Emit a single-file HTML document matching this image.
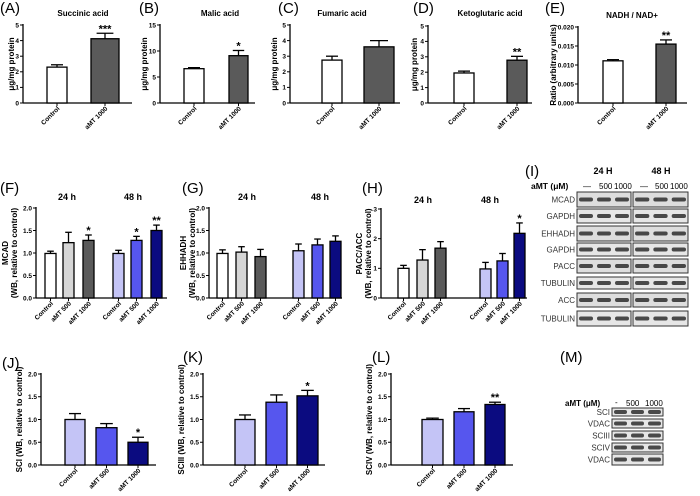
<!DOCTYPE html>
<html><head><meta charset="utf-8"><style>
body{margin:0;background:#fff}
svg{display:block;font-family:"Liberation Sans",Arial,sans-serif}
.pl{font-size:15px}
.t{font-size:8px;font-weight:bold}
.tk{font-size:6.5px;font-weight:bold}
.bl{font-size:8px;fill:#333}
</style></head><body>
<svg id="fig" width="700" height="496" viewBox="0 0 700 496"></svg>
<script>
// ===== data =====
const catsAE = ["Control","aMT 1000"];
const valsA = [2.3, 4.12], errA = [0.15, 0.35];
const valsB = [6.6, 9.1], errB = [0.2, 1.0];
const valsC = [2.75, 3.6], errC = [0.25, 0.4];
const valsD = [1.95, 2.78], errD = [0.12, 0.25];
const valsE = [0.0111, 0.0155], errE = [0.0003, 0.0011];
const catsFH = ["Control","aMT 500","aMT 1000","Control","aMT 500","aMT 1000"];
const valsF = [0.99,1.23,1.28,0.99,1.28,1.5], errF = [0.05,0.23,0.12,0.07,0.09,0.12];
const valsG = [0.99,1.02,0.92,1.05,1.18,1.26], errG = [0.08,0.12,0.16,0.15,0.13,0.12];
const valsH = [1.0,1.28,1.68,0.98,1.25,2.18], errH = [0.1,0.35,0.22,0.22,0.25,0.35];
const catsJL = ["Control","aMT 500","aMT 1000"];
const valsJ = [1.0,0.82,0.5], errJ = [0.13,0.09,0.11];
const valsK = [1.0,1.38,1.52], errK = [0.1,0.16,0.12];
const valsL = [1.0,1.17,1.33], errL = [0.03,0.07,0.05];
const ticksA = ["0","1","2","3","4","5"], ticksB = ["0","5","10","15"];
const ticksE = ["0.000","0.005","0.010","0.015","0.020"];
const ticks2 = ["0.0","0.5","1.0","1.5","2.0"], ticksH = ["0","1","2","3"];
const starsAE = ["","***"], starsB = ["","*"], starsC = ["",""], starsD = ["","**"], starsE = ["","**"];
const starsF = ["","","*","","*","**"], starsG = ["","","","","",""], starsH = ["","","","","","*"];
const starsJ = ["","","*"], starsK = ["","","*"], starsL = ["","","**"];

const NS="http://www.w3.org/2000/svg", svg=document.getElementById('fig');
function mk(tag,attrs,parent,text){const e=document.createElementNS(NS,tag);for(const k in attrs)e.setAttribute(k,attrs[k]);if(text!==undefined)e.textContent=text;(parent||svg).appendChild(e);return e;}
const W="#fff",LG="#d6d6d6",DG="#5a5a5a",LV="#c4c4f6",BL="#5656ee",NV="#0b0b80";

function panel(p){
  const g=mk('g',{});
  
  
  const n=p.ticks.length-1, ymax=parseFloat(p.ticks[n]);
  const y=v=>p.y0-(v/ymax)*(p.y0-p.yt);
  const ax=mk('line',{x1:p.ax,y1:p.yt-1,x2:p.ax,y2:p.y0,stroke:'#000','stroke-width':1.3},g);
  
  const bx=mk('line',{x1:p.ax,y1:p.y0,x2:p.xe,y2:p.y0,stroke:'#000','stroke-width':1.3},g);
  
  p.ticks.forEach(t=>{const v=parseFloat(t),yy=y(v);
    mk('line',{x1:p.ax-3,y1:yy,x2:p.ax,y2:yy,stroke:'#000','stroke-width':1},g);
    const tl=mk('text',{x:p.ax-4,y:yy+2.3,'text-anchor':'end',class:'tk'},g,t);
    });
  p.vals.forEach((v,i)=>{
    const x0=p.bx[i], w=p.bw[i], cx=x0+w/2, top=y(v), et=y(v+p.err[i]);
    mk('line',{x1:cx,y1:top,x2:cx,y2:et,stroke:'#000','stroke-width':1.3},g);
    mk('line',{x1:cx-w*0.3,y1:et,x2:cx+w*0.3,y2:et,stroke:'#000','stroke-width':1.3},g);
    const r=mk('rect',{x:x0,y:top,width:w,height:p.y0-top,fill:p.cols[i],stroke:'#000','stroke-width':1.3},g);
    
    
    mk('line',{x1:cx,y1:p.y0,x2:cx,y2:p.y0+3,stroke:'#000','stroke-width':1},g);
    if(p.stars[i]){const s=mk('text',{x:cx,y:et-1,'text-anchor':'middle','font-size':11,'font-weight':'bold'},g,p.stars[i]);
      }
    const tx=cx+3, ty=p.y0+6;
    const lb=mk('text',{x:tx,y:ty,'text-anchor':'end',class:'tk',transform:`rotate(-45 ${tx} ${ty})`},g,p.cats[i]);
    
  });
  const yl=(p.y0+p.yt)/2;
  p.ylab.forEach((s,k)=>{const xx=p.ylx+k*9;
    const t=mk('text',{x:xx,y:yl,'text-anchor':'middle',class:'t','font-size':7.5,transform:`rotate(-90 ${xx} ${yl})`},g,s);
    });
  if(p.title){const t=mk('text',{x:p.tx,y:p.ty,'text-anchor':'middle',class:'t'},g,p.title);
    }
  (p.groups||[]).forEach(gr=>{const t=mk('text',{x:gr[1],y:gr[2],'text-anchor':'middle','font-size':9,'font-weight':'bold'},g,gr[0]);
    });
  const pl=mk('text',{x:p.lx,y:p.ly,class:'pl'},g,p.label);
  
}
const ug="μg/mg protein";
panel({name:'panel-a-succinic',label:'(A)',lx:0,ly:13,title:'Succinic acid',tx:83,ty:16,ax:23,xe:132,yt:25,y0:103,ticks:ticksA,vals:valsA,err:errA,cats:catsAE,stars:starsAE,bx:[47,91],bw:[20,28],cols:[W,DG],ylab:[ug],ylx:14});
panel({name:'panel-b-malic',label:'(B)',lx:139,ly:13,title:'Malic acid',tx:220,ty:16,ax:160,xe:255,yt:25,y0:103,ticks:ticksB,vals:valsB,err:errB,cats:catsAE,stars:starsB,bx:[184,229],bw:[20,19],cols:[W,DG],ylab:[ug],ylx:147});
panel({name:'panel-c-fumaric',label:'(C)',lx:278,ly:13,title:'Fumaric acid',tx:342,ty:16,ax:290,xe:400,yt:25,y0:103,ticks:ticksA,vals:valsC,err:errC,cats:catsAE,stars:starsC,bx:[322,364],bw:[20,30],cols:[W,DG],ylab:[ug],ylx:277});
panel({name:'panel-d-ketoglutaric',label:'(D)',lx:413,ly:13,title:'Ketoglutaric acid',tx:490,ty:16,ax:428,xe:532,yt:26,y0:103,ticks:ticksA,vals:valsD,err:errD,cats:catsAE,stars:starsD,bx:[454,507],bw:[20,20],cols:[W,DG],ylab:[ug],ylx:417});
panel({name:'panel-e-nadh',label:'(E)',lx:545,ly:13,title:'NADH / NAD+',tx:632,ty:18,ax:578,xe:687,yt:27,y0:103,ticks:ticksE,vals:valsE,err:errE,cats:catsAE,stars:starsE,bx:[603,656],bw:[20,20],cols:[W,DG],ylab:['Ratio (arbitrary units)'],ylx:556});
const c6=[W,LG,DG,LV,BL,NV];
panel({name:'panel-f-mcad',label:'(F)',lx:0,ly:193,ax:36,xe:167,yt:208,y0:298,ticks:ticks2,vals:valsF,err:errF,cats:catsFH,stars:starsF,bx:[45,63,83,113,131,151],bw:[11,11,11,11,11,11],cols:c6,ylab:['MCAD','(WB, relative to control)'],ylx:8,groups:[['24 h',67,200],['48 h',133,200]]});
panel({name:'panel-g-ehhadh',label:'(G)',lx:182,ly:193,ax:209,xe:342,yt:208,y0:298,ticks:ticks2,vals:valsG,err:errG,cats:catsFH,stars:starsG,bx:[217,236,255,293,312,330],bw:[11,11,11,11,11,11],cols:c6,ylab:['EHHADH','(WB, relative to control)'],ylx:186,groups:[['24 h',247,200],['48 h',320,200]]});
panel({name:'panel-h-pacc',label:'(H)',lx:362,ly:193,ax:381,xe:527,yt:209,y0:298,ticks:ticksH,vals:valsH,err:errH,cats:catsFH,stars:starsH,bx:[398,417,435,480,497,514],bw:[11,11,11,11,11,11],cols:c6,ylab:['PACC/ACC','(WB, relative to control)'],ylx:362,groups:[['24 h',423,203],['48 h',490,203]]});
const c3=[LV,BL,NV];
panel({name:'panel-j-sci',label:'(J)',lx:2,ly:368,ax:41,xe:156,yt:374,y0:465,ticks:ticks2,vals:valsJ,err:errJ,cats:catsJL,stars:starsJ,bx:[65,96,128],bw:[20,21,20],cols:c3,ylab:['SCI (WB, relative to control)'],ylx:22});
panel({name:'panel-k-sciii',label:'(K)',lx:183,ly:362,ax:203,xe:325,yt:374,y0:465,ticks:ticks2,vals:valsK,err:errK,cats:catsJL,stars:starsK,bx:[235,266,297],bw:[20,21,21],cols:c3,ylab:['SCIII (WB, relative to control)'],ylx:184});
panel({name:'panel-l-sciv',label:'(L)',lx:372,ly:362,ax:391,xe:513,yt:374,y0:465,ticks:ticks2,vals:valsL,err:errL,cats:catsJL,stars:starsL,bx:[422,454,485],bw:[21,20,20],cols:c3,ylab:['SCIV (WB, relative to control)'],ylx:372});

// ===== western blots =====
function blot(name,labels,rows,boxes,hdr,lblx){
  const g=mk('g',{});
  
  
  rows.forEach((r,i)=>{
    const t=mk('text',{x:lblx,y:(r[0]+r[1])/2+3,'text-anchor':'end',class:'bl'},g,labels[i]);
    
    boxes.forEach(b=>{
      const bg=(i%2==0&&name==='panel-i-blots')?'#ddd':'#e6e6e6';
      mk('rect',{x:b[0],y:r[0],width:b[1]-b[0],height:r[1]-r[0],fill:bg,stroke:'#333','stroke-width':1},g);
      const lw=(b[1]-b[0])/3;
      for(let k=0;k<3;k++){mk('rect',{x:b[0]+lw*k+2,y:(r[0]+r[1])/2-2,width:lw-4,height:4,rx:2,fill:'#222',opacity:0.8},g);}
    });
  });
  hdr.forEach(h=>{const t=mk('text',{x:h[1],y:h[2],'text-anchor':h[3]||'start','font-size':h[4]||8,'font-weight':h[5]||'normal'},g,h[0]);
    });
}
blot('panel-i-blots',['MCAD','GAPDH','EHHADH','GAPDH','PACC','TUBULIN','ACC','TUBULIN'],
  [[192,207],[209,223],[226,241],[243,256],[259,273],[277,289],[293,307],[311,326]],
  [[577,631],[633,688]],
  [['(I)',525,176,'start',15],['24 H',603,174,'middle',9,'bold'],['48 H',661,174,'middle',9,'bold'],['aMT (μM)',531,189,'start',8.5,'bold'],
   ['—',583,189],['500',599,189],['1000',614,189],['—',640,189],['500',655,189],['1000',670,189]],575);
blot('panel-m-blots',['SCI','VDAC','SCIII','SCIV','VDAC'],
  [[408,416],[419,428],[431,440],[443,452],[454,465]],
  [[612,663]],
  [['(M)',560,362,'start',15],['aMT (μM)',565,406,'start',8,'bold'],['-',615,405],['500',626,406],['1000',645,406]],610);
</script>
</body></html>
